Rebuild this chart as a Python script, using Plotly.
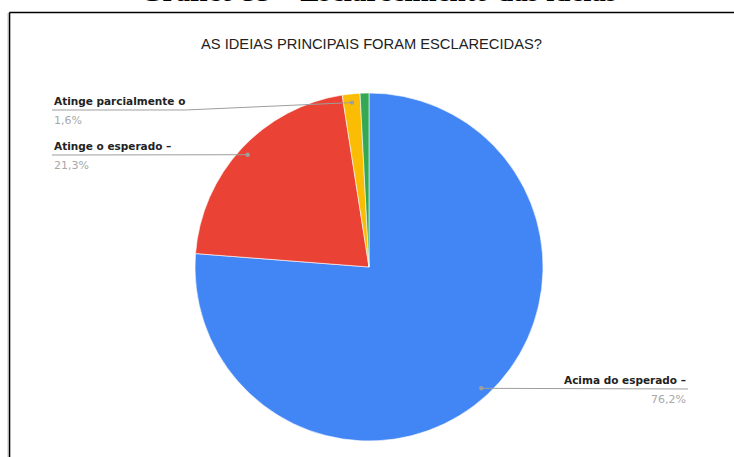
import numpy as np
import plotly.graph_objects as go

W, H = 734, 457

# Survey answers
categories = ["Acima do esperado", "Atinge o esperado",
              "Atinge parcialmente o esperado", "Não atinge o esperado"]
counts = [93, 26, 2, 1]
colors = ["#4285F4", "#EA4335", "#FBBC04", "#34A853"]
# Callout text as shown next to each slice (long names are cut off)
callout_names = ["Acima do esperado –", "Atinge o esperado –", "Atinge parcialmente o", ""]

chart_title = "AS IDEIAS PRINCIPAIS FORAM ESCLARECIDAS?"
caption = "Gráfico 33 – Esclarecimento das ideias"

# Pie geometry (pixels)
cx, cy, R = 369, 267, 174


def px(x):
    return x / W


def py(y):
    return 1 - y / H


fig = go.Figure(go.Pie(
    labels=categories, values=counts, sort=False, direction="clockwise", rotation=0,
    marker=dict(colors=colors, line=dict(color="white", width=0.6)),
    textinfo="none", hoverinfo="label+percent", showlegend=False,
    domain=dict(x=[px(cx - R), px(cx + R)], y=[py(cy + R), py(cy - R)]),
))

# Callout placement: side, underline y, text edge x, elbow x
callouts = {
    0: dict(side="right", y_line=389, x_text=688),
    1: dict(side="left", y_line=155, x_text=52),
    2: dict(side="left", y_line=110, x_text=52, elbow=186),
}

vals = np.array(counts, dtype=float)
frac = vals / vals.sum()
start = np.concatenate([[0], np.cumsum(frac)[:-1]])
mid = 2 * np.pi * (start + frac / 2)

shapes = []
annotations = []
GRAY = "#9e9e9e"
for i, c in callouts.items():
    dx = cx + 0.95 * R * np.sin(mid[i])
    dy = cy - 0.95 * R * np.cos(mid[i])
    yl = c["y_line"]
    if c["side"] == "left":
        elbow = c.get("elbow", c["x_text"])
        pts = [(c["x_text"], yl), (elbow, yl), (dx, dy)]
        xanchor = "left"
    else:
        pts = [(dx, dy), (c["x_text"], yl)]
        xanchor = "right"
    path = "M " + " L ".join(f"{px(x):.5f},{py(y):.5f}" for x, y in pts)
    shapes.append(dict(type="path", path=path, xref="paper", yref="paper",
                       line=dict(color=GRAY, width=1)))
    shapes.append(dict(type="circle", xref="paper", yref="paper",
                       x0=px(dx - 2.2), x1=px(dx + 2.2), y0=py(dy + 2.2), y1=py(dy - 2.2),
                       fillcolor=GRAY, line=dict(width=0)))
    pct = f"{frac[i] * 100:.1f}%".replace(".", ",")
    annotations.append(dict(text=callout_names[i], x=px(c["x_text"]), y=py(yl - 9),
                            xref="paper", yref="paper", xanchor=xanchor, yanchor="middle",
                            showarrow=False,
                            font=dict(family="DejaVu Sans", size=10.5, color="#222222", weight="bold")))
    annotations.append(dict(text=pct, x=px(c["x_text"]), y=py(yl + 10),
                            xref="paper", yref="paper", xanchor=xanchor, yanchor="middle",
                            showarrow=False,
                            font=dict(family="DejaVu Sans", size=11, color="#a8a8a8")))

# Chart title
annotations.append(dict(text=chart_title, x=px(371.5), y=py(44), xref="paper", yref="paper",
                        xanchor="center", yanchor="middle", showarrow=False,
                        font=dict(family="Liberation Sans", size=14.7, color="#222222")))
# Document caption above the frame (only its lower edge lies on the page)
annotations.append(dict(text=caption, x=px(378.5), y=py(9), xref="paper", yref="paper",
                        xanchor="center", yanchor="bottom", showarrow=False,
                        font=dict(family="Liberation Serif", size=29, color="#000000", weight="bold")))

# Frame around the chart
shapes.append(dict(type="line", xref="paper", yref="paper", x0=px(7.5), x1=px(7.5),
                   y0=py(13), y1=py(H), line=dict(color="#e0e0e0", width=1)))
shapes.append(dict(type="line", xref="paper", yref="paper", x0=px(9.5), x1=px(W + 2),
                   y0=py(12.5), y1=py(12.5), line=dict(color="black", width=1.6)))
shapes.append(dict(type="line", xref="paper", yref="paper", x0=px(9.5), x1=px(9.5),
                   y0=py(12.5), y1=py(H + 2), line=dict(color="black", width=1.6)))

fig.update_layout(
    width=W, height=H, margin=dict(l=0, r=0, t=0, b=0),
    paper_bgcolor="white", plot_bgcolor="white",
    shapes=shapes, annotations=annotations,
)

fig.write_html("out.html")
